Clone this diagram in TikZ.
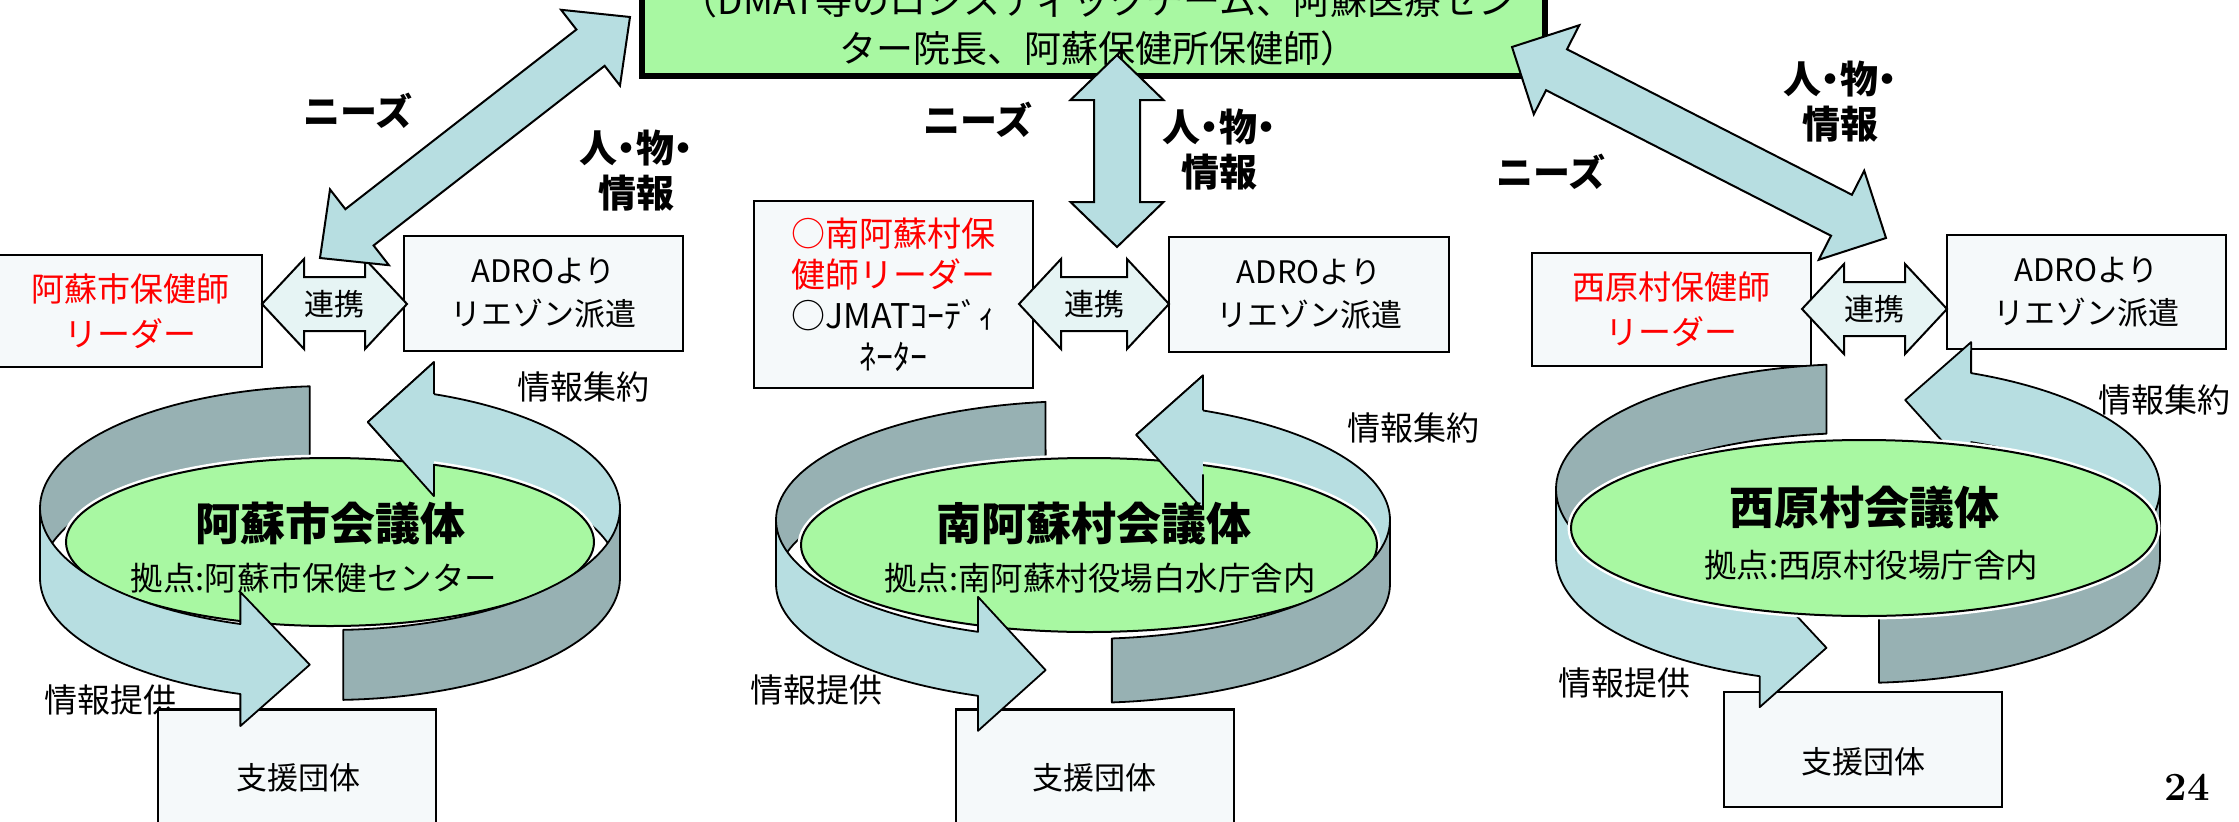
\documentclass[tikz,border=0pt]{standalone}
\usepackage{fontspec}
\usetikzlibrary{calc,shapes.geometric}
\newfontfamily\jp{Noto Sans CJK JP}
\newfontfamily\jpp{Noto Sans CJK JP}[RawFeature=+palt]
\definecolor{bandblue}{RGB}{183,222,225}
\definecolor{bandgray}{RGB}{151,177,179}
\definecolor{boxfill}{RGB}{245,249,250}
\definecolor{renfill}{RGB}{230,244,244}
\definecolor{jgreen}{RGB}{168,248,162}
\tikzset{
  every node/.style={inner sep=0pt, outer sep=0pt},
  bx/.style={draw=black, line width=2.5pt, fill=boxfill, align=center},
  band/.style={draw=black, line width=1.8pt, line join=round},
  blk/.style={draw=black, line width=2pt, fill=bandblue, line join=miter},
  ren/.style={draw=black, line width=2pt, fill=renfill, line join=miter},
  ell/.style={ellipse, draw=black, line width=2pt, fill=jgreen},
  halo/.style={ellipse, draw=white, line width=7pt},
  tA/.style={font=\jp\fontsize{31}{43}\selectfont, align=center},
  tR/.style={font=\jp\fontsize{33}{45}\selectfont, align=center, text=red},
  tM/.style={font=\jp\fontsize{34}{41}\selectfont, align=center},
  tL/.style={font=\jp\fontsize{33}{40}\selectfont},
  tB/.style={font=\jpp\bfseries\fontsize{38}{45}\selectfont, align=center},
  tN/.style={font=\jp\bfseries\fontsize{37}{45}\selectfont},
  tT/.style={font=\jp\bfseries\fontsize{45}{50}\selectfont},
  tS/.style={font=\jp\fontsize{32.5}{40}\selectfont},
  tC/.style={font=\jp\fontsize{31}{38}\selectfont},
}
% block double arrow: style, tipA, tipB, shaft half, head half, head length
\newcommand\blockarrow[6]{\path[#1] (#2)
 -- ($(#2)!#6!(#3)!#5!90:(#3)$) -- ($(#2)!#6!(#3)!#4!90:(#3)$)
 -- ($(#3)!#6!(#2)!#4!-90:(#2)$) -- ($(#3)!#6!(#2)!#5!-90:(#2)$)
 -- (#3)
 -- ($(#3)!#6!(#2)!#5!90:(#2)$) -- ($(#3)!#6!(#2)!#4!90:(#2)$)
 -- ($(#2)!#6!(#3)!#4!-90:(#3)$) -- ($(#2)!#6!(#3)!#5!-90:(#3)$) -- cycle;}
% ring band: fill, cx, cy, rx, ry, h, t1, t2
\newcommand\band[8]{\filldraw[band,fill=#1]
 plot[domain=#7:#8,samples=40] ({#2+#4*cos(\x)},{#3-#5*sin(\x)})
 -- plot[domain=#8:#7,samples=40] ({#2+#4*cos(\x)},{#3-#5*sin(\x)+#6}) -- cycle;}
% ring band with head: fill, cx, cy, rx, ry, h, t1, tbase, ttip
\newcommand\arrowband[9]{\filldraw[band,fill=#1]
 plot[domain=#7:#8,samples=40] ({#2+#4*cos(\x)},{#3-#5*sin(\x)})
 -- ({#2+#4*cos(#8)},{#3-#5*sin(#8)-\hx})
 -- ({#2+#4*cos(#9)},{#3-#5*sin(#9)+#6/2})
 -- ({#2+#4*cos(#8)},{#3-#5*sin(#8)+#6+\hx})
 -- plot[domain=#8:#7,samples=40] ({#2+#4*cos(\x)},{#3-#5*sin(\x)+#6}) -- cycle;}
% head only (redrawn over the ellipse): fill, cx, cy, rx, ry, h, tbase, ttip
\newcommand\headonly[8]{\fill[#1]
 ({#2+#4*cos(#7)},{#3-#5*sin(#7)}) -- ({#2+#4*cos(#7)},{#3-#5*sin(#7)-\hx})
 -- ({#2+#4*cos(#8)},{#3-#5*sin(#8)+#6/2})
 -- ({#2+#4*cos(#7)},{#3-#5*sin(#7)+#6+\hx}) -- ({#2+#4*cos(#7)},{#3-#5*sin(#7)+#6}) -- cycle;
 \draw[band]
 ({#2+#4*cos(#7)},{#3-#5*sin(#7)}) -- ({#2+#4*cos(#7)},{#3-#5*sin(#7)-\hx})
 -- ({#2+#4*cos(#8)},{#3-#5*sin(#8)+#6/2})
 -- ({#2+#4*cos(#7)},{#3-#5*sin(#7)+#6+\hx}) -- ({#2+#4*cos(#7)},{#3-#5*sin(#7)+#6});}
\begin{document}
\begin{tikzpicture}[x=1pt,y=-1pt]
\useasboundingbox (0,0) rectangle (2239,822);
\clip (0,0) rectangle (2239,822);
\fill[white] (0,0) rectangle (2239,822);

% ---------- top box ----------
\node[draw=black, line width=6pt, fill=jgreen, minimum width=903pt, minimum height=140pt] (top) at (1093.5,6) {};
\node[font=\jp\fontsize{37}{48}\selectfont, align=center] (toptext) at (1098,24)
  {（DMAT等のロジスティックチーム、阿蘇医療セン\\ター院長、阿蘇保健所保健師）};

% ---------- labels near top arrows ----------
\node[tN] (need1) at (358,111) {ニーズ};
\node[tB] (res1) at (636,171) {人・物・\\情報};
\node[tN] (need2) at (978,120) {ニーズ};
\node[tB] (res2) at (1219,150) {人・物・\\情報};
\node[tB] (res3) at (1840,102) {人・物・\\情報};
\node[tN] (need3) at (1551,172) {ニーズ};

% ---------- upper boxes ----------
\node[bx, tR, minimum width=264pt, minimum height=112pt] (lead1) at (130,311) {阿蘇市保健師\\リーダー};
\node[bx, tA, minimum width=279pt, minimum height=115pt] (adro1) at (543.5,293.5) {ADROより\\リエゾン派遣};
\node[bx, tM, minimum width=279pt, minimum height=187pt] (lead2) at (893.5,294.5)
  {\textcolor{red}{○南阿蘇村保}\\\textcolor{red}{健師リーダー}\\○JMATｺｰﾃﾞｨ\\ﾈｰﾀｰ};
\node[bx, tA, minimum width=280pt, minimum height=115pt] (adro2) at (1309,294.5) {ADROより\\リエゾン派遣};
\node[bx, tR, minimum width=279pt, minimum height=113pt] (lead3) at (1671.5,309.5) {西原村保健師\\リーダー};
\node[bx, tA, minimum width=279pt, minimum height=114pt] (adro3) at (2086.5,292) {ADROより\\リエゾン派遣};

% ---------- 連携 arrows ----------
\coordinate (r1a) at (262,304); \coordinate (r1b) at (407,304);
\coordinate (r2a) at (1019,304); \coordinate (r2b) at (1169,304);
\coordinate (r3a) at (1802,309); \coordinate (r3b) at (1947,309);
\blockarrow{ren}{r1a}{r1b}{27pt}{45pt}{42pt}
\blockarrow{ren}{r2a}{r2b}{27pt}{45pt}{42pt}
\blockarrow{ren}{r3a}{r3b}{27pt}{45pt}{42pt}
\node[font=\jp\fontsize{30}{36}\selectfont] (ren1) at (334.5,304) {連携};
\node[font=\jp\fontsize{30}{36}\selectfont] (ren2) at (1094,304) {連携};
\node[font=\jp\fontsize{30}{36}\selectfont] (ren3) at (1874.5,309) {連携};

% ---------- big double arrows ----------
\coordinate (d1a) at (630,17); \coordinate (d1b) at (320,258);
\coordinate (d2a) at (1117,55); \coordinate (d2b) at (1117,247);
\coordinate (d3a) at (1512,47); \coordinate (d3b) at (1886,238);
\blockarrow{blk}{d1a}{d1b}{23pt}{48pt}{50pt}
\blockarrow{blk}{d2a}{d2b}{23pt}{46.5pt}{45pt}
\blockarrow{blk}{d3a}{d3b}{23pt}{50pt}{50pt}

% ================= left group =================
\node[tL] (prov1) at (110,700) {情報提供};
\node[tL] (agg1) at (583,387) {情報集約};
\node[bx, minimum width=278pt, minimum height=115pt] (sup1) at (297,767) {};
\node[tC] (sup1t) at (298,778) {支援団体};
\def\hx{32}
\band{bandgray}{330}{508}{290}{122}{70}{94}{180}
\arrowband{bandblue}{330}{508}{290}{122}{70}{0}{69}{82.5}
\node[halo, minimum width=528pt, minimum height=168pt] (halo1) at (330,542) {};
\node[ell, minimum width=528pt, minimum height=168pt] (ell1) at (330,542) {};
\arrowband{bandblue}{330}{508}{290}{122}{70}{180}{252}{266}
\band{bandgray}{330}{508}{290}{122}{70}{272.6}{360}
\headonly{bandblue}{330}{508}{290}{122}{70}{69}{82.5}
\node[tT] (ttl1) at (330,523) {阿蘇市会議体};
\node[tS] (sub1) at (314,578) {拠点:阿蘇市保健センター};

% ================= middle group =================
\node[tL] (prov2) at (816,690) {情報提供};
\node[tL] (agg2) at (1413,428) {情報集約};
\node[bx, minimum width=278pt, minimum height=115pt] (sup2) at (1095,767) {};
\node[tC] (sup2t) at (1094,778) {支援団体};
\def\hx{35}
\band{bandgray}{1083}{520}{307}{119}{64}{97}{180}
\arrowband{bandblue}{1083}{520}{307}{119}{64}{0}{67}{80}
\node[halo, minimum width=576pt, minimum height=174pt] (halo2) at (1089,545) {};
\node[ell, minimum width=576pt, minimum height=174pt] (ell2) at (1089,545) {};
\arrowband{bandblue}{1083}{520}{307}{119}{64}{180}{250}{263}
\band{bandgray}{1083}{520}{307}{119}{64}{275.4}{360}
\headonly{bandblue}{1083}{520}{307}{119}{64}{67}{80}
\node[tT] (ttl2) at (1094,523) {南阿蘇村会議体};
\node[tS] (sub2) at (1100,578) {拠点:南阿蘇村役場白水庁舎内};

% ================= right group =================
\node[tL] (prov3) at (1624,683) {情報提供};
\node[tL] (agg3) at (2164,400) {情報集約};
\node[bx, minimum width=278pt, minimum height=115pt] (sup3) at (1863,749.5) {};
\node[tC] (sup3t) at (1863,762) {支援団体};
\def\hx{31}
\band{bandgray}{1858}{489}{302}{125}{69}{96}{180}
\arrowband{bandblue}{1858}{489}{302}{125}{69}{0}{68}{81}
\arrowband{bandblue}{1858}{489}{302}{125}{69}{180}{251}{264}
\band{bandgray}{1858}{489}{302}{125}{69}{274}{360}
\node[halo, minimum width=586pt, minimum height=176pt] (halo3) at (1864,528) {};
\node[ell, minimum width=586pt, minimum height=176pt] (ell3) at (1864,528) {};
\node[tT] (ttl3) at (1864,507) {西原村会議体};
\node[tS] (sub3) at (1871,565) {拠点:西原村役場庁舎内};

% page number
\node[font=\bfseries\fontsize{40}{40}\selectfont] (pg) at (2187,787) {24};
\end{tikzpicture}
\end{document}
